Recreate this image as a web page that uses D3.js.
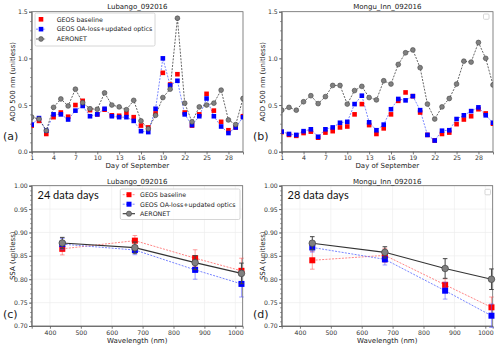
<!DOCTYPE html>
<html>
<head>
<meta charset="utf-8">
<script src="https://cdn.jsdelivr.net/npm/d3@7"></script>
<style>
body { margin: 0; background: #fff; }
svg { font-family: "DejaVu Sans", sans-serif; }
.axis text { font-size: 6.2px; fill: #333; font-family: "DejaVu Sans", sans-serif; }
.axis path, .axis line { stroke: #555; stroke-width: 0.8; }
</style>
</head>
<body>
<div id="chart"></div>
<script>
// AOD daily values, September 2016
let days = d3.range(1, 31);

let lubAeronet = [0.37,0.35,0.225,0.475,0.565,0.49,0.67,0.525,0.46,0.455,0.63,0.50,0.48,0.45,0.55,0.33,0.245,0.39,0.58,0.67,1.43,0.52,0.32,0.48,0.50,0.52,0.66,0.34,0.29,0.57];
let lubNew = [0.29,0.36,0.225,0.40,0.40,0.345,0.44,0.49,0.38,0.40,0.46,0.38,0.37,0.37,0.33,0.22,0.21,0.46,1.00,0.71,0.76,0.40,0.285,0.38,0.57,0.38,0.27,0.20,0.26,0.37];
let lubBase = [0.28,0.33,0.19,0.37,0.42,0.375,0.50,0.545,0.445,0.40,0.45,0.39,0.385,0.41,0.37,0.28,0.26,0.41,0.845,0.72,0.83,0.42,0.28,0.40,0.62,0.44,0.32,0.23,0.26,0.38];

let monAeronet = [0.445,0.475,0.445,0.535,0.60,0.515,0.59,0.71,0.71,0.51,0.655,0.70,0.58,0.555,0.76,0.725,0.935,1.06,1.09,0.90,0.51,0.35,0.48,0.57,0.725,0.97,0.96,1.17,1.00,0.715];
let monNew = [0.215,0.19,0.18,0.22,0.24,0.16,0.24,0.26,0.31,0.32,0.51,0.60,0.315,0.23,0.29,0.455,0.565,0.55,0.595,0.445,0.18,0.12,0.225,0.23,0.35,0.39,0.435,0.475,0.39,0.31];
let monBase = [0.21,0.18,0.17,0.20,0.215,0.15,0.205,0.22,0.26,0.27,0.40,0.51,0.285,0.19,0.25,0.40,0.545,0.635,0.595,0.42,0.18,0.12,0.19,0.205,0.295,0.345,0.38,0.455,0.41,0.30];

// SSA by wavelength
let wavelengths = [440, 675, 870, 1020];
let lubSsaBase = [0.865,0.8825,0.845,0.818], lubSsaBaseErr = [0.013,0.011,0.018,0.027];
let lubSsaNew = [0.875,0.8625,0.82,0.79], lubSsaNewErr = [0.012,0.01,0.02,0.028];
let lubSsaAer = [0.8775,0.8675,0.8355,0.8125], lubSsaAerErr = [0.012,0.012,0.015,0.022];
let monSsaBase = [0.8405,0.851,0.788,0.74], monSsaBaseErr = [0.019,0.015,0.013,0.022];
let monSsaNew = [0.868,0.8425,0.7755,0.722], monSsaNewErr = [0.01,0.012,0.018,0.025];
let monSsaAer = [0.877,0.8575,0.823,0.80], monSsaAerErr = [0.014,0.012,0.021,0.022];

let dayTicks = [1,4,7,10,13,16,19,22,25,28];
let aodTicks = [0, 0.5, 1.0, 1.5];
let wlTicks = [400,500,600,700,800,900,1000];
let ssaTicks = [0.70,0.75,0.80,0.85,0.90,0.95,1.00];

let legendNames = ["GEOS baseline", "GEOS OA-loss+updated optics", "AERONET"];

let svg = d3.select("#chart").append("svg")
    .attr("width", 500)
    .attr("height", 347);

function aodPanel(ox, title, label, aer, nw, base, showLegend){
    let x = d3.scaleLinear().domain([1, 30]).range([ox + 31.7, ox + 243]);
    let y = d3.scaleLinear().domain([0, 1.5]).range([151.7, 11.7]);
    let g = svg.append("g");
    let cid = "clip" + label;
    g.append("clipPath").attr("id", cid).append("rect")
        .attr("x", x.range()[0]).attr("y", y.range()[1])
        .attr("width", x.range()[1] - x.range()[0]).attr("height", y.range()[0] - y.range()[1]);

    g.append("g").attr("class", "axis")
        .attr("transform", "translate(0,151.7)")
        .call(d3.axisBottom(x).tickValues(dayTicks).tickSize(2.7).tickPadding(1.6).tickFormat(d3.format("d")));
    g.append("g").attr("class", "axis")
        .attr("transform", "translate(" + (ox + 31.7) + ",0)")
        .call(d3.axisLeft(y).tickValues(aodTicks).tickSize(2.7).tickPadding(1.2).tickFormat(d3.format(".1f")));
    g.append("g").attr("class", "axis")
        .attr("transform", "translate(" + (ox + 31.7) + ",0)")
        .call(d3.axisLeft(y).tickValues(d3.range(0.1, 1.5, 0.1)).tickSize(1.4).tickFormat(""))
        .select(".domain").remove();
    g.append("rect").attr("x", x.range()[0]).attr("y", y.range()[1])
        .attr("width", x.range()[1] - x.range()[0]).attr("height", y.range()[0] - y.range()[1])
        .attr("fill", "none").attr("stroke", "#666").attr("stroke-width", 0.8);

    let p = g.append("g").attr("clip-path", "url(#" + cid + ")");
    let line = d3.line().x((d, i) => x(days[i])).y(d => y(d));

    p.append("path").datum(nw).attr("d", line).attr("fill", "none")
        .attr("stroke", "#5a6cff").attr("stroke-width", 0.8).attr("stroke-dasharray", "2,1.3");
    p.append("path").datum(aer).attr("d", line).attr("fill", "none")
        .attr("stroke", "#222").attr("stroke-width", 0.7).attr("stroke-dasharray", "2,1.3");

    p.selectAll(".rb").data(base).enter().append("rect")
        .attr("x", (d, i) => x(days[i]) - 2.3).attr("y", d => y(d) - 2.3)
        .attr("width", 4.6).attr("height", 4.6).attr("fill", "#ff0000");
    p.selectAll(".bb").data(nw).enter().append("rect")
        .attr("x", (d, i) => x(days[i]) - 2.3).attr("y", d => y(d) - 2.3)
        .attr("width", 4.6).attr("height", 4.6).attr("fill", "#0000ff");
    p.selectAll(".gc").data(aer).enter().append("circle")
        .attr("cx", (d, i) => x(days[i])).attr("cy", d => y(d)).attr("r", 2.4)
        .attr("fill", "#808080").attr("stroke", "#444").attr("stroke-width", 0.6);

    g.append("text").attr("x", (x.range()[0] + x.range()[1]) / 2).attr("y", 8.6)
        .attr("text-anchor", "middle").attr("font-size", 7).attr("fill", "#222").text(title);
    g.append("text").attr("x", (x.range()[0] + x.range()[1]) / 2).attr("y", 167.5)
        .attr("text-anchor", "middle").attr("font-size", 7).attr("fill", "#222").text("Day of September");
    g.append("text").attr("transform", "translate(" + (ox + 14.8) + ",81.7) rotate(-90)")
        .attr("text-anchor", "middle").attr("font-size", 7).attr("fill", "#222").text("AOD 500 nm (unitless)");
    g.append("text").attr("x", ox + 3).attr("y", 139.5).attr("font-size", 11).attr("fill", "#222").text("(" + label + ")");

    if (showLegend) {
        let lg = g.append("g");
        lg.append("rect").attr("x", ox + 35).attr("y", 13).attr("width", 120).attr("height", 33)
            .attr("rx", 1.5).attr("fill", "#fff").attr("fill-opacity", 0.8).attr("stroke", "#ccc").attr("stroke-width", 0.8);
        legendNames.forEach((name, i) => {
            let ly = 19.3 + i * 9.85;
            let mx = ox + 41;
            if (i == 1) lg.append("line").attr("x1", mx - 5).attr("x2", mx + 5).attr("y1", ly).attr("y2", ly)
                .attr("stroke", "#5a6cff").attr("stroke-width", 0.8).attr("stroke-dasharray", "2,1.3");
            if (i == 2) lg.append("line").attr("x1", mx - 5).attr("x2", mx + 5).attr("y1", ly).attr("y2", ly)
                .attr("stroke", "#222").attr("stroke-width", 0.7).attr("stroke-dasharray", "2,1.3");
            if (i < 2) lg.append("rect").attr("x", mx - 2.3).attr("y", ly - 2.3).attr("width", 4.6).attr("height", 4.6)
                .attr("fill", i == 0 ? "#ff0000" : "#0000ff");
            else lg.append("circle").attr("cx", mx).attr("cy", ly).attr("r", 2.4)
                .attr("fill", "#808080").attr("stroke", "#444").attr("stroke-width", 0.6);
            lg.append("text").attr("x", ox + 56.7).attr("y", ly + 2.3).attr("font-size", 6.3).attr("fill", "#222").text(name);
        });
    } else {
        g.append("rect").attr("x", ox + 233.5).attr("y", 14).attr("width", 5.5).attr("height", 5.3)
            .attr("rx", 1).attr("fill", "#fff").attr("stroke", "#ccc").attr("stroke-width", 0.8);
    }
}

function ssaPanel(ox, title, label, daysText, series, showLegend){
    let x = d3.scaleLinear().domain([341, 1024]).range([ox + 31.7, ox + 242.7]);
    let y = d3.scaleLinear().domain([0.70, 1.00]).range([326, 185.7]);
    let g = svg.append("g");

    // light grid
    g.append("g").selectAll("line").data(wlTicks).enter().append("line")
        .attr("x1", d => x(d)).attr("x2", d => x(d)).attr("y1", y.range()[0]).attr("y2", y.range()[1])
        .attr("stroke", "#eee").attr("stroke-width", 0.7);
    g.append("g").selectAll("line").data(ssaTicks).enter().append("line")
        .attr("x1", x.range()[0]).attr("x2", x.range()[1]).attr("y1", d => y(d)).attr("y2", d => y(d))
        .attr("stroke", "#eee").attr("stroke-width", 0.7);

    g.append("g").attr("class", "axis")
        .attr("transform", "translate(0,326)")
        .call(d3.axisBottom(x).tickValues(wlTicks).tickSize(2.7).tickPadding(1.8).tickFormat(d3.format("d")));
    g.append("g").attr("class", "axis")
        .attr("transform", "translate(" + (ox + 31.7) + ",0)")
        .call(d3.axisLeft(y).tickValues(ssaTicks).tickSize(2.7).tickPadding(1.2).tickFormat(d3.format(".2f")));
    g.append("g").attr("class", "axis")
        .attr("transform", "translate(" + (ox + 31.7) + ",0)")
        .call(d3.axisLeft(y).tickValues(d3.range(0.71, 1.0, 0.01)).tickSize(1.4).tickFormat(""))
        .select(".domain").remove();
    g.append("rect").attr("x", x.range()[0]).attr("y", y.range()[1])
        .attr("width", x.range()[1] - x.range()[0]).attr("height", y.range()[0] - y.range()[1])
        .attr("fill", "none").attr("stroke", "#666").attr("stroke-width", 0.8);

    let line = d3.line().x((d, i) => x(wavelengths[i])).y(d => y(d));

    series.forEach(s => {
        let sg = g.append("g");
        sg.selectAll(".err").data(s.vals).enter().append("g").each(function(d, i){
            let e = d3.select(this), cx = x(wavelengths[i]), lo = y(d - s.err[i]), hi = y(d + s.err[i]);
            e.append("line").attr("x1", cx).attr("x2", cx).attr("y1", lo).attr("y2", hi)
                .attr("stroke", s.errColor).attr("stroke-width", 1);
            [lo, hi].forEach(yy => e.append("line").attr("x1", cx - 2.3).attr("x2", cx + 2.3).attr("y1", yy).attr("y2", yy)
                .attr("stroke", s.errColor).attr("stroke-width", 1));
        });
        sg.append("path").datum(s.vals).attr("d", line).attr("fill", "none")
            .attr("stroke", s.lineColor).attr("stroke-width", s.dash ? 0.8 : 1.1)
            .attr("stroke-dasharray", s.dash ? "2,1.3" : null);
        if (s.circle) {
            sg.selectAll("circle").data(s.vals).enter().append("circle")
                .attr("cx", (d, i) => x(wavelengths[i])).attr("cy", d => y(d)).attr("r", 3.3)
                .attr("fill", "#808080").attr("stroke", "#444").attr("stroke-width", 0.7);
        } else {
            sg.selectAll("rect").data(s.vals).enter().append("rect")
                .attr("x", (d, i) => x(wavelengths[i]) - 3).attr("y", d => y(d) - 3)
                .attr("width", 6).attr("height", 6).attr("fill", s.color);
        }
    });

    g.append("text").attr("x", (x.range()[0] + x.range()[1]) / 2).attr("y", 183.6)
        .attr("text-anchor", "middle").attr("font-size", 7).attr("fill", "#222").text(title);
    g.append("text").attr("x", (x.range()[0] + x.range()[1]) / 2).attr("y", 342.5)
        .attr("text-anchor", "middle").attr("font-size", 7).attr("fill", "#222").text("Wavelength (nm)");
    g.append("text").attr("transform", "translate(" + (ox + 14.8) + ",255.8) rotate(-90)")
        .attr("text-anchor", "middle").attr("font-size", 7).attr("fill", "#222").text("SSA (unitless)");
    g.append("text").attr("x", ox + 3).attr("y", 317.5).attr("font-size", 11).attr("fill", "#222").text("(" + label + ")");
    g.append("text").attr("x", ox + 37.5).attr("y", 199).attr("font-family", "Lato, sans-serif")
        .attr("font-size", 11).attr("fill", "#111").text(daysText);

    if (showLegend) {
        let lg = g.append("g");
        lg.append("rect").attr("x", ox + 120.3).attr("y", 189).attr("width", 119.7).attr("height", 30.5)
            .attr("rx", 1.5).attr("fill", "#fff").attr("fill-opacity", 0.8).attr("stroke", "#ccc").attr("stroke-width", 0.8);
        series.forEach((s, i) => {
            let ly = 194.7 + i * 9.5;
            let mx = ox + 129;
            lg.append("line").attr("x1", mx - 6.3).attr("x2", mx + 6).attr("y1", ly).attr("y2", ly)
                .attr("stroke", s.lineColor).attr("stroke-width", s.dash ? 0.8 : 1.1)
                .attr("stroke-dasharray", s.dash ? "2,1.3" : null);
            if (s.circle) lg.append("circle").attr("cx", mx).attr("cy", ly).attr("r", 2.6)
                .attr("fill", "#808080").attr("stroke", "#444").attr("stroke-width", 0.6);
            else lg.append("rect").attr("x", mx - 2.5).attr("y", ly - 2.5).attr("width", 5).attr("height", 5).attr("fill", s.color);
            lg.append("text").attr("x", ox + 140).attr("y", ly + 2.3).attr("font-size", 6.3).attr("fill", "#222").text(legendNames[i]);
        });
    } else {
        g.append("rect").attr("x", ox + 235).attr("y", 189.3).attr("width", 5.5).attr("height", 5.5)
            .attr("rx", 1).attr("fill", "#fff").attr("stroke", "#ccc").attr("stroke-width", 0.8);
    }
}

function ssaSeries(base, baseErr, nw, nwErr, aer, aerErr){
    return [
        {vals: base, err: baseErr, color: "#ff0000", lineColor: "#ff6666", errColor: "rgba(255,80,80,0.55)", dash: true},
        {vals: nw, err: nwErr, color: "#0000ff", lineColor: "#5566ff", errColor: "rgba(80,80,255,0.55)", dash: true},
        {vals: aer, err: aerErr, color: "#808080", lineColor: "#333", errColor: "#444", dash: false, circle: true}
    ];
}

aodPanel(0, "Lubango_092016", "a", lubAeronet, lubNew, lubBase, true);
aodPanel(250, "Mongu_Inn_092016", "b", monAeronet, monNew, monBase, false);
ssaPanel(0, "Lubango_092016", "c", "24 data days",
    ssaSeries(lubSsaBase, lubSsaBaseErr, lubSsaNew, lubSsaNewErr, lubSsaAer, lubSsaAerErr), true);
ssaPanel(250, "Mongu_Inn_092016", "d", "28 data days",
    ssaSeries(monSsaBase, monSsaBaseErr, monSsaNew, monSsaNewErr, monSsaAer, monSsaAerErr), false);
</script>
</body>
</html>
